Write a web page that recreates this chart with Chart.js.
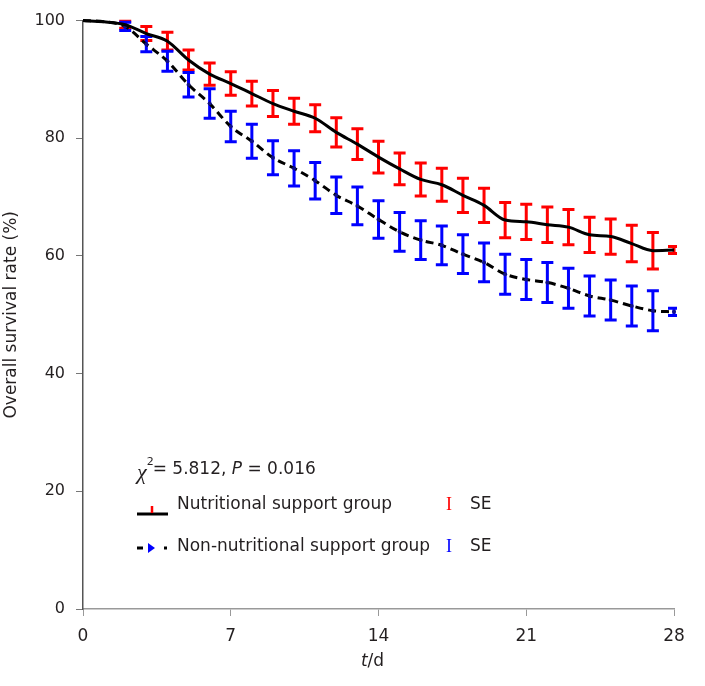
<!DOCTYPE html>
<html>
<head>
<meta charset="utf-8">
<script src="https://cdn.jsdelivr.net/npm/chart.js@4"></script>
<style>
  html, body { margin: 0; padding: 0; background: #fff; }
  #survival-chart { display: block; }
</style>
</head>
<body>
<canvas id="survival-chart" width="705" height="686"></canvas>
<script>
const days = [0, 1, 2, 3, 4, 5, 6, 7, 8, 9, 10, 11, 12, 13, 14, 15, 16, 17, 18, 19, 20, 21, 22, 23, 24, 25, 26, 27, 28]
const nutritional = [100, 99.8, 99.3, 97.8, 96.5, 93.3, 90.9, 89.3, 87.6, 85.9, 84.6, 83.4, 81.0, 79.0, 76.8,
    74.8, 73.0, 72.1, 70.3, 68.6, 66.1, 65.8, 65.3, 64.9, 63.6, 63.3, 62.1, 60.9, 61.0]
const nonNutritional = [100, 99.8, 99.0, 96.0, 93.1, 89.1, 85.9, 82.0, 79.5, 76.7, 74.9, 72.8, 70.3, 68.5, 66.2,
    64.1, 62.7, 61.8, 60.3, 58.9, 56.9, 56.0, 55.5, 54.5, 53.2, 52.5, 51.5, 50.7, 50.5]
const seNutritional = [null, null, 0.6, 1.2, 1.5, 1.7, 1.9, 2.0, 2.1, 2.2, 2.2, 2.3, 2.5, 2.6, 2.7,
    2.7, 2.8, 2.8, 2.9, 2.9, 3.0, 3.0, 3.0, 3.0, 3.0, 3.0, 3.1, 3.1, 0.6]
const seNonNutritional = [null, null, 0.7, 1.3, 1.7, 2.1, 2.5, 2.6, 2.9, 2.9, 3.0, 3.1, 3.1, 3.2, 3.2,
    3.3, 3.3, 3.3, 3.3, 3.3, 3.4, 3.4, 3.4, 3.4, 3.4, 3.4, 3.4, 3.4, 0.6]
const xTicks = [0, 7, 14, 21, 28]
const yTicks = [0, 20, 40, 60, 80, 100]

const textColor = '#231f20'
const font = "'DejaVu Sans', sans-serif"

// vertical SE bars with caps, drawn under the survival lines
const errorBars = {
    id: 'errorBars',
    beforeDatasetsDraw(chart) {
        const { ctx, chartArea, scales: { x, y } } = chart
        ctx.save()
        // the last bars are cut at the right edge, as in the source figure
        ctx.beginPath()
        ctx.rect(0, 0, chartArea.right + 3, chart.height)
        ctx.clip()
        chart.data.datasets.forEach(ds => {
            if (!ds.se) return
            ctx.strokeStyle = ds.seColor
            ctx.lineWidth = 3
            ds.data.forEach((p, i) => {
                const e = ds.se[i]
                if (e == null) return
                const px = x.getPixelForValue(p.x)
                const top = y.getPixelForValue(p.y + e)
                const bot = y.getPixelForValue(p.y - e)
                ctx.beginPath()
                ctx.moveTo(px, top)
                ctx.lineTo(px, bot)
                ctx.moveTo(px - 6, top)
                ctx.lineTo(px + 6, top)
                ctx.moveTo(px - 6, bot)
                ctx.lineTo(px + 6, bot)
                ctx.stroke()
            })
        })
        ctx.restore()
    }
}

// legend block, statistic and the x axis title with italic parts
const annotations = {
    id: 'annotations',
    afterDraw(chart) {
        const { ctx, chartArea: area, scales: { x } } = chart
        ctx.save()
        ctx.fillStyle = textColor
        ctx.textBaseline = 'middle'

        const lx = area.left + 54
        // chi-square line
        let cy = 470
        ctx.font = "italic 22px 'Liberation Serif', serif"
        ctx.fillText('\u03c7', lx, cy + 3)
        let w = ctx.measureText('\u03c7').width
        ctx.font = "11px " + font
        ctx.fillText('2', lx + w, cy - 8)
        ctx.font = "17px " + font
        let tx = lx + w + 6
        ctx.fillText('= 5.812, ', tx, cy)
        tx += ctx.measureText('= 5.812, ').width
        ctx.font = "italic 17px " + font
        ctx.fillText('P', tx, cy)
        tx += ctx.measureText('P').width
        ctx.font = "17px " + font
        ctx.fillText(' = 0.016', tx, cy)

        // nutritional group
        ctx.strokeStyle = '#000'
        ctx.lineWidth = 3
        ctx.beginPath()
        ctx.moveTo(lx, 514)
        ctx.lineTo(lx + 31, 514)
        ctx.stroke()
        ctx.strokeStyle = '#ff0000'
        ctx.lineWidth = 2.5
        ctx.beginPath()
        ctx.moveTo(lx + 15, 506)
        ctx.lineTo(lx + 15, 513)
        ctx.stroke()
        ctx.fillText('Nutritional support group', lx + 40, 505)

        // non-nutritional group
        ctx.strokeStyle = '#000'
        ctx.lineWidth = 3
        ctx.beginPath()
        ctx.moveTo(lx, 548)
        ctx.lineTo(lx + 6, 548)
        ctx.moveTo(lx + 27, 548)
        ctx.lineTo(lx + 30, 548)
        ctx.stroke()
        ctx.fillStyle = '#0000ff'
        ctx.beginPath()
        ctx.moveTo(lx + 11, 543)
        ctx.lineTo(lx + 18, 548)
        ctx.lineTo(lx + 11, 553)
        ctx.closePath()
        ctx.fill()
        ctx.fillStyle = textColor
        ctx.fillText('Non-nutritional support group', lx + 40, 547)

        // SE keys
        ctx.font = "18px 'Liberation Serif', serif"
        ctx.fillStyle = '#ff0000'
        ctx.fillText('I', 446, 505)
        ctx.fillStyle = '#0000ff'
        ctx.fillText('I', 446, 547)
        ctx.font = "17px " + font
        ctx.fillStyle = textColor
        ctx.fillText('SE', 470, 505)
        ctx.fillText('SE', 470, 547)

        // x axis title t/d
        const mid = (x.left + x.right) / 2 - 6
        ctx.font = "italic 17px " + font
        const tw = ctx.measureText('t').width
        ctx.font = "17px " + font
        const dw = ctx.measureText('/d').width
        const sx = mid - (tw + dw) / 2
        ctx.font = "italic 17px " + font
        ctx.fillText('t', sx, 662)
        ctx.font = "17px " + font
        ctx.fillText('/d', sx + tw, 662)
        ctx.restore()
    }
}

document.addEventListener('DOMContentLoaded', () => {
    const canvas = document.getElementById('survival-chart')

    new Chart(canvas, {
        type: 'line',
        data: {
            datasets: [{
                label: 'Nutritional support group',
                data: days.map((d, i) => ({ x: d, y: nutritional[i] })),
                se: seNutritional,
                seColor: '#ff0000',
                borderColor: '#000',
                borderWidth: 3,
                pointRadius: 0,
                cubicInterpolationMode: 'monotone',
                clip: 8
            }, {
                label: 'Non-nutritional support group',
                data: days.map((d, i) => ({ x: d, y: nonNutritional[i] })),
                se: seNonNutritional,
                seColor: '#0000ff',
                borderColor: '#000',
                borderWidth: 3,
                borderDash: [8, 5],
                pointRadius: (c) => c.dataIndex > 1 ? 2 : 0,
                pointBackgroundColor: '#10108a',
                pointBorderWidth: 0,
                cubicInterpolationMode: 'monotone',
                clip: 8
            }]
        },
        options: {
            responsive: false,
            animation: false,
            layout: { padding: { left: 0, top: 13, right: 31, bottom: 0 } },
            plugins: {
                legend: { display: false },
                tooltip: { enabled: false }
            },
            scales: {
                x: {
                    type: 'linear',
                    min: 0,
                    max: 28,
                    afterBuildTicks: s => { s.ticks = xTicks.map(v => ({ value: v })) },
                    afterFit: s => { s.height = 77 },
                    grid: { drawOnChartArea: false, drawTicks: true, tickLength: 7, color: '#999' },
                    border: { color: '#999', width: 1.5 },
                    ticks: { color: textColor, padding: 10, font: { family: font, size: 17 }, maxRotation: 0 }
                },
                y: {
                    min: 0,
                    max: 100,
                    afterBuildTicks: s => { s.ticks = yTicks.map(v => ({ value: v })) },
                    afterFit: s => { s.width = 83 },
                    grid: { drawOnChartArea: false, drawTicks: true, tickLength: 7, color: '#777' },
                    border: { color: '#555', width: 1.5 },
                    ticks: { color: textColor, padding: 11, font: { family: font, size: 16 } },
                    title: {
                        display: true,
                        text: 'Overall survival rate (%)',
                        color: textColor,
                        font: { family: font, size: 17 },
                        padding: { top: 1, bottom: 0 }
                    }
                }
            }
        },
        plugins: [errorBars, annotations]
    })
})
</script>
</body>
</html>
